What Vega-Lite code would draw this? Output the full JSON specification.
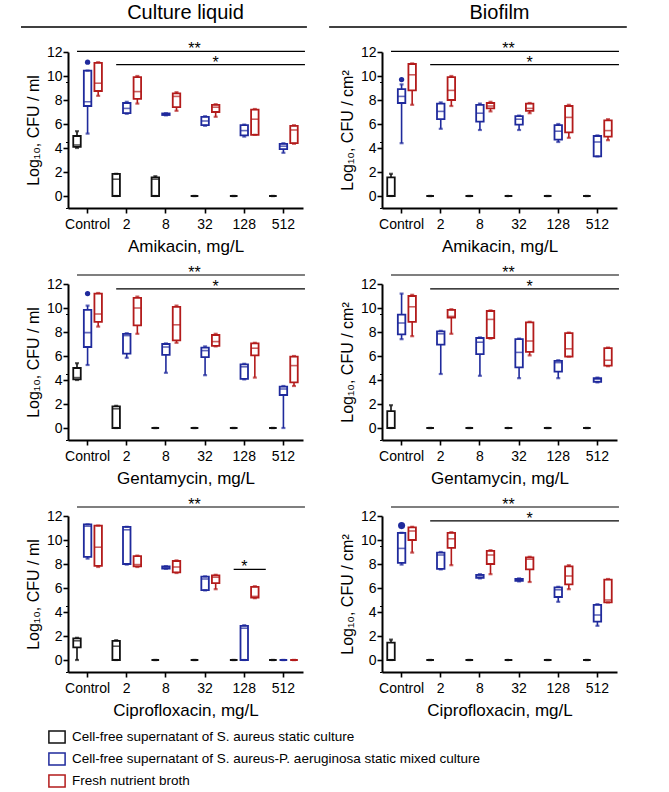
{
  "$schema": "https://vega.github.io/schema/vega-lite/v6.json",
  "padding": {"left": 20, "top": 3, "right": 5, "bottom": 2},
  "datasets": {
    "groups": [
      {"g": "S", "name": "Cell-free supernatant of S. aureus static culture"},
      {"g": "SP", "name": "Cell-free supernatant of S. aureus-P. aeruginosa static mixed culture"},
      {"g": "F", "name": "Fresh nutrient broth"}
    ],
    "headers": [
      {"side": "C", "from": "Control", "to": "512", "h": 1},
      {"side": "B", "from": "Control", "to": "512", "h": 1}
    ],
    "boxes": [
      {"p":"CA","c":"Control","g":"S","lo":4.0,"q1":4.1,"md":4.25,"q3":5.0,"hi":5.4},
      {"p":"CA","c":"Control","g":"SP","lo":5.2,"q1":7.5,"md":7.85,"q3":10.45,"hi":10.45},
      {"p":"CA","c":"Control","g":"F","lo":8.35,"q1":8.75,"md":9.4,"q3":11.1,"hi":11.15},
      {"p":"CA","c":"2","g":"S","lo":0,"q1":0,"md":1.4,"q3":1.85,"hi":1.85},
      {"p":"CA","c":"2","g":"SP","lo":6.85,"q1":6.9,"md":7.3,"q3":7.75,"hi":7.85},
      {"p":"CA","c":"2","g":"F","lo":7.7,"q1":8.1,"md":8.7,"q3":9.9,"hi":10.0},
      {"p":"CA","c":"8","g":"S","lo":0,"q1":0,"md":1.4,"q3":1.55,"hi":1.65},
      {"p":"CA","c":"8","g":"SP","lo":6.72,"q1":6.75,"md":6.8,"q3":6.88,"hi":6.9},
      {"p":"CA","c":"8","g":"F","lo":7.1,"q1":7.4,"md":8.3,"q3":8.55,"hi":8.65},
      {"p":"CA","c":"32","g":"S","lo":0,"q1":0,"md":0,"q3":0,"hi":0},
      {"p":"CA","c":"32","g":"SP","lo":5.85,"q1":5.9,"md":6.25,"q3":6.6,"hi":6.65},
      {"p":"CA","c":"32","g":"F","lo":6.6,"q1":7.0,"md":7.4,"q3":7.6,"hi":7.65},
      {"p":"CA","c":"128","g":"S","lo":0,"q1":0,"md":0,"q3":0,"hi":0},
      {"p":"CA","c":"128","g":"SP","lo":4.95,"q1":5.05,"md":5.45,"q3":5.9,"hi":5.95},
      {"p":"CA","c":"128","g":"F","lo":5.1,"q1":5.1,"md":6.4,"q3":7.2,"hi":7.25},
      {"p":"CA","c":"512","g":"S","lo":0,"q1":0,"md":0,"q3":0,"hi":0},
      {"p":"CA","c":"512","g":"SP","lo":3.6,"q1":3.9,"md":4.15,"q3":4.35,"hi":4.4},
      {"p":"CA","c":"512","g":"F","lo":4.35,"q1":4.4,"md":5.5,"q3":5.85,"hi":5.9},

      {"p":"BA","c":"Control","g":"S","lo":0,"q1":0,"md":0,"q3":1.55,"hi":1.85},
      {"p":"BA","c":"Control","g":"SP","lo":4.4,"q1":7.75,"md":8.3,"q3":8.9,"hi":9.3},
      {"p":"BA","c":"Control","g":"F","lo":7.6,"q1":8.8,"md":10.1,"q3":11.0,"hi":11.05},
      {"p":"BA","c":"2","g":"S","lo":0,"q1":0,"md":0,"q3":0,"hi":0},
      {"p":"BA","c":"2","g":"SP","lo":5.6,"q1":6.4,"md":7.05,"q3":7.7,"hi":7.8},
      {"p":"BA","c":"2","g":"F","lo":7.5,"q1":8.0,"md":8.8,"q3":9.9,"hi":10.0},
      {"p":"BA","c":"8","g":"S","lo":0,"q1":0,"md":0,"q3":0,"hi":0},
      {"p":"BA","c":"8","g":"SP","lo":5.5,"q1":6.2,"md":6.9,"q3":7.6,"hi":7.7},
      {"p":"BA","c":"8","g":"F","lo":7.05,"q1":7.3,"md":7.5,"q3":7.75,"hi":7.85},
      {"p":"BA","c":"32","g":"S","lo":0,"q1":0,"md":0,"q3":0,"hi":0},
      {"p":"BA","c":"32","g":"SP","lo":5.5,"q1":5.95,"md":6.4,"q3":6.65,"hi":6.7},
      {"p":"BA","c":"32","g":"F","lo":6.9,"q1":7.1,"md":7.3,"q3":7.7,"hi":7.75},
      {"p":"BA","c":"128","g":"S","lo":0,"q1":0,"md":0,"q3":0,"hi":0},
      {"p":"BA","c":"128","g":"SP","lo":4.5,"q1":4.7,"md":5.4,"q3":5.9,"hi":6.0},
      {"p":"BA","c":"128","g":"F","lo":4.85,"q1":5.3,"md":6.55,"q3":7.5,"hi":7.6},
      {"p":"BA","c":"512","g":"S","lo":0,"q1":0,"md":0,"q3":0,"hi":0},
      {"p":"BA","c":"512","g":"SP","lo":3.3,"q1":3.3,"md":4.5,"q3":5.0,"hi":5.05},
      {"p":"BA","c":"512","g":"F","lo":4.65,"q1":4.95,"md":5.45,"q3":6.3,"hi":6.4},

      {"p":"CG","c":"Control","g":"S","lo":4.0,"q1":4.05,"md":4.2,"q3":5.0,"hi":5.4},
      {"p":"CG","c":"Control","g":"SP","lo":5.25,"q1":6.75,"md":7.95,"q3":9.85,"hi":10.2},
      {"p":"CG","c":"Control","g":"F","lo":8.45,"q1":8.85,"md":9.5,"q3":11.2,"hi":11.25},
      {"p":"CG","c":"2","g":"S","lo":0,"q1":0,"md":1.6,"q3":1.8,"hi":1.85},
      {"p":"CG","c":"2","g":"SP","lo":5.85,"q1":6.2,"md":7.7,"q3":7.85,"hi":7.9},
      {"p":"CG","c":"2","g":"F","lo":7.85,"q1":8.55,"md":10.0,"q3":10.85,"hi":10.95},
      {"p":"CG","c":"8","g":"S","lo":0,"q1":0,"md":0,"q3":0,"hi":0},
      {"p":"CG","c":"8","g":"SP","lo":4.6,"q1":6.1,"md":6.75,"q3":7.0,"hi":7.05},
      {"p":"CG","c":"8","g":"F","lo":7.1,"q1":7.3,"md":8.6,"q3":10.1,"hi":10.2},
      {"p":"CG","c":"32","g":"S","lo":0,"q1":0,"md":0,"q3":0,"hi":0},
      {"p":"CG","c":"32","g":"SP","lo":4.4,"q1":5.9,"md":6.45,"q3":6.7,"hi":6.8},
      {"p":"CG","c":"32","g":"F","lo":6.8,"q1":6.85,"md":7.2,"q3":7.75,"hi":7.85},
      {"p":"CG","c":"128","g":"S","lo":0,"q1":0,"md":0,"q3":0,"hi":0},
      {"p":"CG","c":"128","g":"SP","lo":4.05,"q1":4.1,"md":5.1,"q3":5.3,"hi":5.35},
      {"p":"CG","c":"128","g":"F","lo":4.2,"q1":6.05,"md":6.65,"q3":7.05,"hi":7.1},
      {"p":"CG","c":"512","g":"S","lo":0,"q1":0,"md":0,"q3":0,"hi":0},
      {"p":"CG","c":"512","g":"SP","lo":0,"q1":2.75,"md":3.25,"q3":3.45,"hi":3.5},
      {"p":"CG","c":"512","g":"F","lo":3.5,"q1":3.8,"md":5.2,"q3":5.95,"hi":6.0},

      {"p":"BG","c":"Control","g":"S","lo":0,"q1":0,"md":0,"q3":1.4,"hi":1.9},
      {"p":"BG","c":"Control","g":"SP","lo":7.4,"q1":7.8,"md":8.75,"q3":9.45,"hi":11.2},
      {"p":"BG","c":"Control","g":"F","lo":7.65,"q1":8.85,"md":10.1,"q3":11.0,"hi":11.1},
      {"p":"BG","c":"2","g":"S","lo":0,"q1":0,"md":0,"q3":0,"hi":0},
      {"p":"BG","c":"2","g":"SP","lo":4.5,"q1":6.95,"md":7.85,"q3":8.05,"hi":8.1},
      {"p":"BG","c":"2","g":"F","lo":7.85,"q1":9.2,"md":9.3,"q3":9.85,"hi":9.9},
      {"p":"BG","c":"8","g":"S","lo":0,"q1":0,"md":0,"q3":0,"hi":0},
      {"p":"BG","c":"8","g":"SP","lo":4.35,"q1":6.15,"md":7.15,"q3":7.5,"hi":7.55},
      {"p":"BG","c":"8","g":"F","lo":7.45,"q1":7.5,"md":9.05,"q3":9.75,"hi":9.8},
      {"p":"BG","c":"32","g":"S","lo":0,"q1":0,"md":0,"q3":0,"hi":0},
      {"p":"BG","c":"32","g":"SP","lo":4.15,"q1":5.05,"md":6.3,"q3":7.4,"hi":7.45},
      {"p":"BG","c":"32","g":"F","lo":6.05,"q1":6.35,"md":7.25,"q3":8.8,"hi":8.85},
      {"p":"BG","c":"128","g":"S","lo":0,"q1":0,"md":0,"q3":0,"hi":0},
      {"p":"BG","c":"128","g":"SP","lo":4.15,"q1":4.7,"md":5.45,"q3":5.6,"hi":5.65},
      {"p":"BG","c":"128","g":"F","lo":5.95,"q1":5.95,"md":6.6,"q3":7.9,"hi":7.95},
      {"p":"BG","c":"512","g":"S","lo":0,"q1":0,"md":0,"q3":0,"hi":0},
      {"p":"BG","c":"512","g":"SP","lo":3.8,"q1":3.85,"md":4.05,"q3":4.15,"hi":4.2},
      {"p":"BG","c":"512","g":"F","lo":5.15,"q1":5.2,"md":5.65,"q3":6.65,"hi":6.7},

      {"p":"CC","c":"Control","g":"S","lo":0,"q1":1.05,"md":1.6,"q3":1.8,"hi":1.85},
      {"p":"CC","c":"Control","g":"SP","lo":8.45,"q1":8.6,"md":11.15,"q3":11.3,"hi":11.3},
      {"p":"CC","c":"Control","g":"F","lo":7.75,"q1":7.85,"md":9.4,"q3":11.2,"hi":11.2},
      {"p":"CC","c":"2","g":"S","lo":0,"q1":0,"md":1.15,"q3":1.6,"hi":1.65},
      {"p":"CC","c":"2","g":"SP","lo":7.95,"q1":8.0,"md":10.85,"q3":11.1,"hi":11.1},
      {"p":"CC","c":"2","g":"F","lo":7.75,"q1":7.8,"md":7.95,"q3":8.65,"hi":8.7},
      {"p":"CC","c":"8","g":"S","lo":0,"q1":0,"md":0,"q3":0,"hi":0},
      {"p":"CC","c":"8","g":"SP","lo":7.6,"q1":7.62,"md":7.7,"q3":7.8,"hi":7.82},
      {"p":"CC","c":"8","g":"F","lo":7.25,"q1":7.3,"md":7.75,"q3":8.25,"hi":8.3},
      {"p":"CC","c":"32","g":"S","lo":0,"q1":0,"md":0,"q3":0,"hi":0},
      {"p":"CC","c":"32","g":"SP","lo":5.8,"q1":5.82,"md":6.75,"q3":6.95,"hi":6.97},
      {"p":"CC","c":"32","g":"F","lo":5.9,"q1":6.4,"md":6.9,"q3":7.05,"hi":7.1},
      {"p":"CC","c":"128","g":"S","lo":0,"q1":0,"md":0,"q3":0,"hi":0},
      {"p":"CC","c":"128","g":"SP","lo":0,"q1":0,"md":2.65,"q3":2.85,"hi":2.9},
      {"p":"CC","c":"128","g":"F","lo":5.15,"q1":5.2,"md":5.3,"q3":6.1,"hi":6.15},
      {"p":"CC","c":"512","g":"S","lo":0,"q1":0,"md":0,"q3":0,"hi":0},
      {"p":"CC","c":"512","g":"SP","lo":0,"q1":0,"md":0,"q3":0,"hi":0},
      {"p":"CC","c":"512","g":"F","lo":0,"q1":0,"md":0,"q3":0,"hi":0},

      {"p":"BC","c":"Control","g":"S","lo":0,"q1":0,"md":0,"q3":1.45,"hi":1.7},
      {"p":"BC","c":"Control","g":"SP","lo":7.95,"q1":8.1,"md":9.3,"q3":10.6,"hi":10.6},
      {"p":"BC","c":"Control","g":"F","lo":8.95,"q1":10.0,"md":10.75,"q3":11.05,"hi":11.1},
      {"p":"BC","c":"2","g":"S","lo":0,"q1":0,"md":0,"q3":0,"hi":0},
      {"p":"BC","c":"2","g":"SP","lo":7.55,"q1":7.6,"md":8.75,"q3":8.95,"hi":9.0},
      {"p":"BC","c":"2","g":"F","lo":7.9,"q1":9.35,"md":10.1,"q3":10.6,"hi":10.65},
      {"p":"BC","c":"8","g":"S","lo":0,"q1":0,"md":0,"q3":0,"hi":0},
      {"p":"BC","c":"8","g":"SP","lo":6.8,"q1":6.85,"md":7.0,"q3":7.1,"hi":7.15},
      {"p":"BC","c":"8","g":"F","lo":7.15,"q1":8.0,"md":8.75,"q3":9.1,"hi":9.15},
      {"p":"BC","c":"32","g":"S","lo":0,"q1":0,"md":0,"q3":0,"hi":0},
      {"p":"BC","c":"32","g":"SP","lo":6.55,"q1":6.6,"md":6.65,"q3":6.75,"hi":6.8},
      {"p":"BC","c":"32","g":"F","lo":6.5,"q1":7.55,"md":8.4,"q3":8.55,"hi":8.6},
      {"p":"BC","c":"128","g":"S","lo":0,"q1":0,"md":0,"q3":0,"hi":0},
      {"p":"BC","c":"128","g":"SP","lo":4.85,"q1":5.25,"md":5.85,"q3":6.05,"hi":6.1},
      {"p":"BC","c":"128","g":"F","lo":5.9,"q1":6.3,"md":7.0,"q3":7.8,"hi":7.9},
      {"p":"BC","c":"512","g":"S","lo":0,"q1":0,"md":0,"q3":0,"hi":0},
      {"p":"BC","c":"512","g":"SP","lo":2.85,"q1":3.2,"md":3.75,"q3":4.6,"hi":4.65},
      {"p":"BC","c":"512","g":"F","lo":4.8,"q1":4.8,"md":5.0,"q3":6.7,"hi":6.75}
    ],
    "outliers": [
      {"p":"CA","c":"Control","g":"SP","v":11.15},
      {"p":"BA","c":"Control","g":"SP","v":9.7},
      {"p":"CG","c":"Control","g":"SP","v":11.2},
      {"p":"BC","c":"Control","g":"SP","v":11.2}
    ],
    "sig": [
      {"p":"CA","from":"Control","to":"512","y":12.05,"lab":"**","tx":"32","tg":"S"},
      {"p":"CA","from":"2","to":"512","y":10.95,"lab":"*","tx":"32","tg":"F"},
      {"p":"BA","from":"Control","to":"512","y":12.05,"lab":"**","tx":"32","tg":"S"},
      {"p":"BA","from":"2","to":"512","y":10.95,"lab":"*","tx":"32","tg":"F"},
      {"p":"CG","from":"Control","to":"512","y":12.75,"lab":"**","tx":"32","tg":"S"},
      {"p":"CG","from":"2","to":"512","y":11.6,"lab":"*","tx":"32","tg":"F"},
      {"p":"BG","from":"Control","to":"512","y":12.75,"lab":"**","tx":"32","tg":"S"},
      {"p":"BG","from":"2","to":"512","y":11.6,"lab":"*","tx":"32","tg":"F"},
      {"p":"CC","from":"Control","to":"512","y":12.75,"lab":"**","tx":"32","tg":"S"},
      {"p":"CC","from":"128","to":"128","y":7.55,"lab":"*","tx":"128","tg":"SP"},
      {"p":"BC","from":"Control","to":"512","y":12.75,"lab":"**","tx":"32","tg":"S"},
      {"p":"BC","from":"2","to":"512","y":11.6,"lab":"*","tx":"32","tg":"F"}
    ]
  },
  "columns": 1,
  "align": "none",
  "spacing": 10,
  "concat": [
    {
      "spacing": 20,
      "hconcat": [
        {
          "width": 235, "height": 4,
          "data": {"name": "headers"},
          "transform": [{"filter": "datum.side == 'C'"}],
          "title": {"text": "Culture liquid", "offset": 3},
          "mark": {"type": "rule", "strokeWidth": 1.5, "color": "black"},
          "encoding": {
            "x": {"field": "from", "type": "nominal", "bandPosition": -1.2, "scale": {"domain": ["Control","2","8","32","128","512"], "paddingInner": 0, "paddingOuter": 0}, "axis": null},
            "x2": {"field": "to", "bandPosition": 1.1},
            "y": {"field": "h", "type": "quantitative", "scale": {"domain": [0, 1]}, "axis": null}
          }
        },
        {
          "width": 235, "height": 4,
          "data": {"name": "headers"},
          "transform": [{"filter": "datum.side == 'B'"}],
          "title": {"text": "Biofilm", "offset": 3},
          "mark": {"type": "rule", "strokeWidth": 1.5, "color": "black"},
          "encoding": {
            "x": {"field": "from", "type": "nominal", "bandPosition": -1.35, "scale": {"domain": ["Control","2","8","32","128","512"], "paddingInner": 0, "paddingOuter": 0}, "axis": null},
            "x2": {"field": "to", "bandPosition": 1.25},
            "y": {"field": "h", "type": "quantitative", "scale": {"domain": [0, 1]}, "axis": null}
          }
        }
      ]
    },
    {
      "spacing": 33,
      "hconcat": [
        {
          "width": 235, "height": 156,
          "resolve": {"axis": {"y": "independent"}},
          "layer": [
            {"layer": [
              {"data": {"name": "boxes"}, "transform": [{"filter": "datum.p == 'CA'"}],
               "mark": {"type": "rule", "strokeWidth": 1.6},
               "encoding": {
                 "x": {"field": "c", "type": "nominal", "scale": {"domain": ["Control","2","8","32","128","512"], "paddingInner": 0, "paddingOuter": 0}, "axis": {"title": "Amikacin, mg/L"}},
                 "xOffset": {"field": "g", "type": "nominal", "scale": {"domain": ["S","SP","F"], "paddingInner": 0, "paddingOuter": 0.35}},
                 "y": {"field": "lo", "type": "quantitative", "scale": {"domain": [-1, 12], "nice": false, "zero": false}, "axis": {"orient": "left", "title": null, "labels": false, "domain": false, "tickSize": 2.5, "tickWidth": 1, "values": [-1,-0.5,0.5,1,1.5,2.5,3,3.5,4.5,5,5.5,6.5,7,7.5,8.5,9,9.5,10.5,11,11.5]}},
                 "y2": {"field": "hi"},
                 "color": {"field": "g", "type": "nominal", "scale": {"domain": ["S","SP","F"], "range": ["#111111","#1f2a9c","#b31b1b"]}, "legend": null}
               }},
              {"data": {"name": "boxes"}, "transform": [{"filter": "datum.p == 'CA'"}, {"lookup": "g", "from": {"data": {"name": "groups"}, "key": "g", "fields": ["name"]}}],
               "mark": {"type": "bar", "fill": "white", "strokeWidth": 1.8, "size": 7.5},
               "encoding": {
                 "x": {"field": "c", "type": "nominal"},
                 "xOffset": {"field": "g", "type": "nominal"},
                 "y": {"field": "q1", "type": "quantitative"},
                 "y2": {"field": "q3"},
                 "stroke": {"field": "name", "type": "nominal", "scale": {"domain": ["Cell-free supernatant of S. aureus static culture","Cell-free supernatant of S. aureus-P. aeruginosa static mixed culture","Fresh nutrient broth"], "range": ["#111111","#1f2a9c","#b31b1b"]}}
               }},
              {"data": {"name": "boxes"}, "transform": [{"filter": "datum.p == 'CA'"}],
               "mark": {"type": "tick", "thickness": 1.6, "size": 7.5},
               "encoding": {
                 "x": {"field": "c", "type": "nominal"},
                 "xOffset": {"field": "g", "type": "nominal"},
                 "y": {"field": "md", "type": "quantitative"},
                 "color": {"field": "g", "type": "nominal", "legend": null}
               }},
              {"data": {"name": "boxes"}, "transform": [{"filter": "datum.p == 'CA'"}, {"fold": ["lo", "hi"], "as": ["k", "v"]}],
               "mark": {"type": "tick", "thickness": 2.2, "size": 4},
               "encoding": {
                 "x": {"field": "c", "type": "nominal"},
                 "xOffset": {"field": "g", "type": "nominal"},
                 "y": {"field": "v", "type": "quantitative"},
                 "color": {"field": "g", "type": "nominal", "legend": null}
               }},
              {"data": {"name": "outliers"}, "transform": [{"filter": "datum.p == 'CA'"}],
               "mark": {"type": "point", "filled": true, "size": 28, "opacity": 1},
               "encoding": {
                 "x": {"field": "c", "type": "nominal"},
                 "xOffset": {"field": "g", "type": "nominal"},
                 "y": {"field": "v", "type": "quantitative"},
                 "color": {"field": "g", "type": "nominal", "legend": null}
               }},
              {"data": {"name": "sig"}, "transform": [{"filter": "datum.p == 'CA'"}],
               "mark": {"type": "rule", "strokeWidth": 1.2, "color": "black"},
               "encoding": {
                 "x": {"field": "from", "type": "nominal", "bandPosition": 0.23},
                 "x2": {"field": "to", "bandPosition": 1.05},
                 "y": {"field": "y", "type": "quantitative"}
               }}
            ]},
            {"data": {"name": "sig"}, "transform": [{"filter": "datum.p == 'CA'"}],
             "mark": {"type": "text", "fontSize": 16, "baseline": "alphabetic", "dy": 3, "color": "black"},
             "encoding": {
               "x": {"field": "tx", "type": "nominal"},
               "xOffset": {"field": "tg", "type": "nominal"},
               "y": {"field": "y", "type": "quantitative", "axis": {"orient": "left", "title": "Log₁₀, CFU / ml", "values": [0,2,4,6,8,10,12], "labelOverlap": false}},
               "text": {"field": "lab"}
             }}
          ]
        },
        {
          "width": 235, "height": 156,
          "resolve": {"axis": {"y": "independent"}},
          "layer": [
            {"layer": [
              {"data": {"name": "boxes"}, "transform": [{"filter": "datum.p == 'BA'"}],
               "mark": {"type": "rule", "strokeWidth": 1.6},
               "encoding": {
                 "x": {"field": "c", "type": "nominal", "scale": {"domain": ["Control","2","8","32","128","512"], "paddingInner": 0, "paddingOuter": 0}, "axis": {"title": "Amikacin, mg/L"}},
                 "xOffset": {"field": "g", "type": "nominal", "scale": {"domain": ["S","SP","F"], "paddingInner": 0, "paddingOuter": 0.35}},
                 "y": {"field": "lo", "type": "quantitative", "scale": {"domain": [-1, 12], "nice": false, "zero": false}, "axis": {"orient": "left", "title": null, "labels": false, "domain": false, "tickSize": 2.5, "tickWidth": 1, "values": [-1,-0.5,0.5,1,1.5,2.5,3,3.5,4.5,5,5.5,6.5,7,7.5,8.5,9,9.5,10.5,11,11.5]}},
                 "y2": {"field": "hi"},
                 "color": {"field": "g", "type": "nominal", "scale": {"domain": ["S","SP","F"], "range": ["#111111","#1f2a9c","#b31b1b"]}, "legend": null}
               }},
              {"data": {"name": "boxes"}, "transform": [{"filter": "datum.p == 'BA'"}, {"lookup": "g", "from": {"data": {"name": "groups"}, "key": "g", "fields": ["name"]}}],
               "mark": {"type": "bar", "fill": "white", "strokeWidth": 1.8, "size": 7.5},
               "encoding": {
                 "x": {"field": "c", "type": "nominal"},
                 "xOffset": {"field": "g", "type": "nominal"},
                 "y": {"field": "q1", "type": "quantitative"},
                 "y2": {"field": "q3"},
                 "stroke": {"field": "name", "type": "nominal", "scale": {"domain": ["Cell-free supernatant of S. aureus static culture","Cell-free supernatant of S. aureus-P. aeruginosa static mixed culture","Fresh nutrient broth"], "range": ["#111111","#1f2a9c","#b31b1b"]}}
               }},
              {"data": {"name": "boxes"}, "transform": [{"filter": "datum.p == 'BA'"}],
               "mark": {"type": "tick", "thickness": 1.6, "size": 7.5},
               "encoding": {
                 "x": {"field": "c", "type": "nominal"},
                 "xOffset": {"field": "g", "type": "nominal"},
                 "y": {"field": "md", "type": "quantitative"},
                 "color": {"field": "g", "type": "nominal", "legend": null}
               }},
              {"data": {"name": "boxes"}, "transform": [{"filter": "datum.p == 'BA'"}, {"fold": ["lo", "hi"], "as": ["k", "v"]}],
               "mark": {"type": "tick", "thickness": 2.2, "size": 4},
               "encoding": {
                 "x": {"field": "c", "type": "nominal"},
                 "xOffset": {"field": "g", "type": "nominal"},
                 "y": {"field": "v", "type": "quantitative"},
                 "color": {"field": "g", "type": "nominal", "legend": null}
               }},
              {"data": {"name": "outliers"}, "transform": [{"filter": "datum.p == 'BA'"}],
               "mark": {"type": "point", "filled": true, "size": 28, "opacity": 1},
               "encoding": {
                 "x": {"field": "c", "type": "nominal"},
                 "xOffset": {"field": "g", "type": "nominal"},
                 "y": {"field": "v", "type": "quantitative"},
                 "color": {"field": "g", "type": "nominal", "legend": null}
               }},
              {"data": {"name": "sig"}, "transform": [{"filter": "datum.p == 'BA'"}],
               "mark": {"type": "rule", "strokeWidth": 1.2, "color": "black"},
               "encoding": {
                 "x": {"field": "from", "type": "nominal", "bandPosition": 0.23},
                 "x2": {"field": "to", "bandPosition": 1.05},
                 "y": {"field": "y", "type": "quantitative"}
               }}
            ]},
            {"data": {"name": "sig"}, "transform": [{"filter": "datum.p == 'BA'"}],
             "mark": {"type": "text", "fontSize": 16, "baseline": "alphabetic", "dy": 3, "color": "black"},
             "encoding": {
               "x": {"field": "tx", "type": "nominal"},
               "xOffset": {"field": "tg", "type": "nominal"},
               "y": {"field": "y", "type": "quantitative", "axis": {"orient": "left", "title": "Log₁₀, CFU / cm²", "values": [0,2,4,6,8,10,12], "labelOverlap": false}},
               "text": {"field": "lab"}
             }}
          ]
        }
      ]
    },
    {
      "spacing": 33,
      "hconcat": [
        {
          "width": 235, "height": 156,
          "resolve": {"axis": {"y": "independent"}},
          "layer": [
            {"layer": [
              {"data": {"name": "boxes"}, "transform": [{"filter": "datum.p == 'CG'"}],
               "mark": {"type": "rule", "strokeWidth": 1.6},
               "encoding": {
                 "x": {"field": "c", "type": "nominal", "scale": {"domain": ["Control","2","8","32","128","512"], "paddingInner": 0, "paddingOuter": 0}, "axis": {"title": "Gentamycin, mg/L"}},
                 "xOffset": {"field": "g", "type": "nominal", "scale": {"domain": ["S","SP","F"], "paddingInner": 0, "paddingOuter": 0.35}},
                 "y": {"field": "lo", "type": "quantitative", "scale": {"domain": [-1, 12], "nice": false, "zero": false}, "axis": {"orient": "left", "title": null, "labels": false, "domain": false, "tickSize": 2.5, "tickWidth": 1, "values": [-1,-0.5,0.5,1,1.5,2.5,3,3.5,4.5,5,5.5,6.5,7,7.5,8.5,9,9.5,10.5,11,11.5]}},
                 "y2": {"field": "hi"},
                 "color": {"field": "g", "type": "nominal", "scale": {"domain": ["S","SP","F"], "range": ["#111111","#1f2a9c","#b31b1b"]}, "legend": null}
               }},
              {"data": {"name": "boxes"}, "transform": [{"filter": "datum.p == 'CG'"}, {"lookup": "g", "from": {"data": {"name": "groups"}, "key": "g", "fields": ["name"]}}],
               "mark": {"type": "bar", "fill": "white", "strokeWidth": 1.8, "size": 7.5},
               "encoding": {
                 "x": {"field": "c", "type": "nominal"},
                 "xOffset": {"field": "g", "type": "nominal"},
                 "y": {"field": "q1", "type": "quantitative"},
                 "y2": {"field": "q3"},
                 "stroke": {"field": "name", "type": "nominal", "scale": {"domain": ["Cell-free supernatant of S. aureus static culture","Cell-free supernatant of S. aureus-P. aeruginosa static mixed culture","Fresh nutrient broth"], "range": ["#111111","#1f2a9c","#b31b1b"]}}
               }},
              {"data": {"name": "boxes"}, "transform": [{"filter": "datum.p == 'CG'"}],
               "mark": {"type": "tick", "thickness": 1.6, "size": 7.5},
               "encoding": {
                 "x": {"field": "c", "type": "nominal"},
                 "xOffset": {"field": "g", "type": "nominal"},
                 "y": {"field": "md", "type": "quantitative"},
                 "color": {"field": "g", "type": "nominal", "legend": null}
               }},
              {"data": {"name": "boxes"}, "transform": [{"filter": "datum.p == 'CG'"}, {"fold": ["lo", "hi"], "as": ["k", "v"]}],
               "mark": {"type": "tick", "thickness": 2.2, "size": 4},
               "encoding": {
                 "x": {"field": "c", "type": "nominal"},
                 "xOffset": {"field": "g", "type": "nominal"},
                 "y": {"field": "v", "type": "quantitative"},
                 "color": {"field": "g", "type": "nominal", "legend": null}
               }},
              {"data": {"name": "outliers"}, "transform": [{"filter": "datum.p == 'CG'"}],
               "mark": {"type": "point", "filled": true, "size": 28, "opacity": 1},
               "encoding": {
                 "x": {"field": "c", "type": "nominal"},
                 "xOffset": {"field": "g", "type": "nominal"},
                 "y": {"field": "v", "type": "quantitative"},
                 "color": {"field": "g", "type": "nominal", "legend": null}
               }},
              {"data": {"name": "sig"}, "transform": [{"filter": "datum.p == 'CG'"}],
               "mark": {"type": "rule", "strokeWidth": 1.2, "color": "black"},
               "encoding": {
                 "x": {"field": "from", "type": "nominal", "bandPosition": 0.23},
                 "x2": {"field": "to", "bandPosition": 1.05},
                 "y": {"field": "y", "type": "quantitative"}
               }}
            ]},
            {"data": {"name": "sig"}, "transform": [{"filter": "datum.p == 'CG'"}],
             "mark": {"type": "text", "fontSize": 16, "baseline": "alphabetic", "dy": 3, "color": "black"},
             "encoding": {
               "x": {"field": "tx", "type": "nominal"},
               "xOffset": {"field": "tg", "type": "nominal"},
               "y": {"field": "y", "type": "quantitative", "axis": {"orient": "left", "title": "Log₁₀, CFU / ml", "values": [0,2,4,6,8,10,12], "labelOverlap": false}},
               "text": {"field": "lab"}
             }}
          ]
        },
        {
          "width": 235, "height": 156,
          "resolve": {"axis": {"y": "independent"}},
          "layer": [
            {"layer": [
              {"data": {"name": "boxes"}, "transform": [{"filter": "datum.p == 'BG'"}],
               "mark": {"type": "rule", "strokeWidth": 1.6},
               "encoding": {
                 "x": {"field": "c", "type": "nominal", "scale": {"domain": ["Control","2","8","32","128","512"], "paddingInner": 0, "paddingOuter": 0}, "axis": {"title": "Gentamycin, mg/L"}},
                 "xOffset": {"field": "g", "type": "nominal", "scale": {"domain": ["S","SP","F"], "paddingInner": 0, "paddingOuter": 0.35}},
                 "y": {"field": "lo", "type": "quantitative", "scale": {"domain": [-1, 12], "nice": false, "zero": false}, "axis": {"orient": "left", "title": null, "labels": false, "domain": false, "tickSize": 2.5, "tickWidth": 1, "values": [-1,-0.5,0.5,1,1.5,2.5,3,3.5,4.5,5,5.5,6.5,7,7.5,8.5,9,9.5,10.5,11,11.5]}},
                 "y2": {"field": "hi"},
                 "color": {"field": "g", "type": "nominal", "scale": {"domain": ["S","SP","F"], "range": ["#111111","#1f2a9c","#b31b1b"]}, "legend": null}
               }},
              {"data": {"name": "boxes"}, "transform": [{"filter": "datum.p == 'BG'"}, {"lookup": "g", "from": {"data": {"name": "groups"}, "key": "g", "fields": ["name"]}}],
               "mark": {"type": "bar", "fill": "white", "strokeWidth": 1.8, "size": 7.5},
               "encoding": {
                 "x": {"field": "c", "type": "nominal"},
                 "xOffset": {"field": "g", "type": "nominal"},
                 "y": {"field": "q1", "type": "quantitative"},
                 "y2": {"field": "q3"},
                 "stroke": {"field": "name", "type": "nominal", "scale": {"domain": ["Cell-free supernatant of S. aureus static culture","Cell-free supernatant of S. aureus-P. aeruginosa static mixed culture","Fresh nutrient broth"], "range": ["#111111","#1f2a9c","#b31b1b"]}}
               }},
              {"data": {"name": "boxes"}, "transform": [{"filter": "datum.p == 'BG'"}],
               "mark": {"type": "tick", "thickness": 1.6, "size": 7.5},
               "encoding": {
                 "x": {"field": "c", "type": "nominal"},
                 "xOffset": {"field": "g", "type": "nominal"},
                 "y": {"field": "md", "type": "quantitative"},
                 "color": {"field": "g", "type": "nominal", "legend": null}
               }},
              {"data": {"name": "boxes"}, "transform": [{"filter": "datum.p == 'BG'"}, {"fold": ["lo", "hi"], "as": ["k", "v"]}],
               "mark": {"type": "tick", "thickness": 2.2, "size": 4},
               "encoding": {
                 "x": {"field": "c", "type": "nominal"},
                 "xOffset": {"field": "g", "type": "nominal"},
                 "y": {"field": "v", "type": "quantitative"},
                 "color": {"field": "g", "type": "nominal", "legend": null}
               }},
              {"data": {"name": "sig"}, "transform": [{"filter": "datum.p == 'BG'"}],
               "mark": {"type": "rule", "strokeWidth": 1.2, "color": "black"},
               "encoding": {
                 "x": {"field": "from", "type": "nominal", "bandPosition": 0.23},
                 "x2": {"field": "to", "bandPosition": 1.05},
                 "y": {"field": "y", "type": "quantitative"}
               }}
            ]},
            {"data": {"name": "sig"}, "transform": [{"filter": "datum.p == 'BG'"}],
             "mark": {"type": "text", "fontSize": 16, "baseline": "alphabetic", "dy": 3, "color": "black"},
             "encoding": {
               "x": {"field": "tx", "type": "nominal"},
               "xOffset": {"field": "tg", "type": "nominal"},
               "y": {"field": "y", "type": "quantitative", "axis": {"orient": "left", "title": "Log₁₀, CFU / cm²", "values": [0,2,4,6,8,10,12], "labelOverlap": false}},
               "text": {"field": "lab"}
             }}
          ]
        }
      ]
    },
    {
      "spacing": 33,
      "hconcat": [
        {
          "width": 235, "height": 156,
          "resolve": {"axis": {"y": "independent"}},
          "layer": [
            {"layer": [
              {"data": {"name": "boxes"}, "transform": [{"filter": "datum.p == 'CC'"}],
               "mark": {"type": "rule", "strokeWidth": 1.6},
               "encoding": {
                 "x": {"field": "c", "type": "nominal", "scale": {"domain": ["Control","2","8","32","128","512"], "paddingInner": 0, "paddingOuter": 0}, "axis": {"title": "Ciprofloxacin, mg/L"}},
                 "xOffset": {"field": "g", "type": "nominal", "scale": {"domain": ["S","SP","F"], "paddingInner": 0, "paddingOuter": 0.35}},
                 "y": {"field": "lo", "type": "quantitative", "scale": {"domain": [-1, 12], "nice": false, "zero": false}, "axis": {"orient": "left", "title": null, "labels": false, "domain": false, "tickSize": 2.5, "tickWidth": 1, "values": [-1,-0.5,0.5,1,1.5,2.5,3,3.5,4.5,5,5.5,6.5,7,7.5,8.5,9,9.5,10.5,11,11.5]}},
                 "y2": {"field": "hi"},
                 "color": {"field": "g", "type": "nominal", "scale": {"domain": ["S","SP","F"], "range": ["#111111","#1f2a9c","#b31b1b"]}, "legend": null}
               }},
              {"data": {"name": "boxes"}, "transform": [{"filter": "datum.p == 'CC'"}, {"lookup": "g", "from": {"data": {"name": "groups"}, "key": "g", "fields": ["name"]}}],
               "mark": {"type": "bar", "fill": "white", "strokeWidth": 1.8, "size": 7.5},
               "encoding": {
                 "x": {"field": "c", "type": "nominal"},
                 "xOffset": {"field": "g", "type": "nominal"},
                 "y": {"field": "q1", "type": "quantitative"},
                 "y2": {"field": "q3"},
                 "stroke": {"field": "name", "type": "nominal", "scale": {"domain": ["Cell-free supernatant of S. aureus static culture","Cell-free supernatant of S. aureus-P. aeruginosa static mixed culture","Fresh nutrient broth"], "range": ["#111111","#1f2a9c","#b31b1b"]}}
               }},
              {"data": {"name": "boxes"}, "transform": [{"filter": "datum.p == 'CC'"}],
               "mark": {"type": "tick", "thickness": 1.6, "size": 7.5},
               "encoding": {
                 "x": {"field": "c", "type": "nominal"},
                 "xOffset": {"field": "g", "type": "nominal"},
                 "y": {"field": "md", "type": "quantitative"},
                 "color": {"field": "g", "type": "nominal", "legend": null}
               }},
              {"data": {"name": "boxes"}, "transform": [{"filter": "datum.p == 'CC'"}, {"fold": ["lo", "hi"], "as": ["k", "v"]}],
               "mark": {"type": "tick", "thickness": 2.2, "size": 4},
               "encoding": {
                 "x": {"field": "c", "type": "nominal"},
                 "xOffset": {"field": "g", "type": "nominal"},
                 "y": {"field": "v", "type": "quantitative"},
                 "color": {"field": "g", "type": "nominal", "legend": null}
               }},
              {"data": {"name": "sig"}, "transform": [{"filter": "datum.p == 'CC'"}],
               "mark": {"type": "rule", "strokeWidth": 1.2, "color": "black"},
               "encoding": {
                 "x": {"field": "from", "type": "nominal", "bandPosition": 0.23},
                 "x2": {"field": "to", "bandPosition": 1.05},
                 "y": {"field": "y", "type": "quantitative"}
               }}
            ]},
            {"data": {"name": "sig"}, "transform": [{"filter": "datum.p == 'CC'"}],
             "mark": {"type": "text", "fontSize": 16, "baseline": "alphabetic", "dy": 3, "color": "black"},
             "encoding": {
               "x": {"field": "tx", "type": "nominal"},
               "xOffset": {"field": "tg", "type": "nominal"},
               "y": {"field": "y", "type": "quantitative", "axis": {"orient": "left", "title": "Log₁₀, CFU / ml", "values": [0,2,4,6,8,10,12], "labelOverlap": false}},
               "text": {"field": "lab"}
             }}
          ]
        },
        {
          "width": 235, "height": 156,
          "resolve": {"axis": {"y": "independent"}},
          "layer": [
            {"layer": [
              {"data": {"name": "boxes"}, "transform": [{"filter": "datum.p == 'BC'"}],
               "mark": {"type": "rule", "strokeWidth": 1.6},
               "encoding": {
                 "x": {"field": "c", "type": "nominal", "scale": {"domain": ["Control","2","8","32","128","512"], "paddingInner": 0, "paddingOuter": 0}, "axis": {"title": "Ciprofloxacin, mg/L"}},
                 "xOffset": {"field": "g", "type": "nominal", "scale": {"domain": ["S","SP","F"], "paddingInner": 0, "paddingOuter": 0.35}},
                 "y": {"field": "lo", "type": "quantitative", "scale": {"domain": [-1, 12], "nice": false, "zero": false}, "axis": {"orient": "left", "title": null, "labels": false, "domain": false, "tickSize": 2.5, "tickWidth": 1, "values": [-1,-0.5,0.5,1,1.5,2.5,3,3.5,4.5,5,5.5,6.5,7,7.5,8.5,9,9.5,10.5,11,11.5]}},
                 "y2": {"field": "hi"},
                 "color": {"field": "g", "type": "nominal", "scale": {"domain": ["S","SP","F"], "range": ["#111111","#1f2a9c","#b31b1b"]}, "legend": null}
               }},
              {"data": {"name": "boxes"}, "transform": [{"filter": "datum.p == 'BC'"}, {"lookup": "g", "from": {"data": {"name": "groups"}, "key": "g", "fields": ["name"]}}],
               "mark": {"type": "bar", "fill": "white", "strokeWidth": 1.8, "size": 7.5},
               "encoding": {
                 "x": {"field": "c", "type": "nominal"},
                 "xOffset": {"field": "g", "type": "nominal"},
                 "y": {"field": "q1", "type": "quantitative"},
                 "y2": {"field": "q3"},
                 "stroke": {"field": "name", "type": "nominal", "scale": {"domain": ["Cell-free supernatant of S. aureus static culture","Cell-free supernatant of S. aureus-P. aeruginosa static mixed culture","Fresh nutrient broth"], "range": ["#111111","#1f2a9c","#b31b1b"]}}
               }},
              {"data": {"name": "boxes"}, "transform": [{"filter": "datum.p == 'BC'"}],
               "mark": {"type": "tick", "thickness": 1.6, "size": 7.5},
               "encoding": {
                 "x": {"field": "c", "type": "nominal"},
                 "xOffset": {"field": "g", "type": "nominal"},
                 "y": {"field": "md", "type": "quantitative"},
                 "color": {"field": "g", "type": "nominal", "legend": null}
               }},
              {"data": {"name": "boxes"}, "transform": [{"filter": "datum.p == 'BC'"}, {"fold": ["lo", "hi"], "as": ["k", "v"]}],
               "mark": {"type": "tick", "thickness": 2.2, "size": 4},
               "encoding": {
                 "x": {"field": "c", "type": "nominal"},
                 "xOffset": {"field": "g", "type": "nominal"},
                 "y": {"field": "v", "type": "quantitative"},
                 "color": {"field": "g", "type": "nominal", "legend": null}
               }},
              {"data": {"name": "outliers"}, "transform": [{"filter": "datum.p == 'BC'"}],
               "mark": {"type": "point", "filled": true, "size": 50, "opacity": 1},
               "encoding": {
                 "x": {"field": "c", "type": "nominal"},
                 "xOffset": {"field": "g", "type": "nominal"},
                 "y": {"field": "v", "type": "quantitative"},
                 "color": {"field": "g", "type": "nominal", "legend": null}
               }},
              {"data": {"name": "sig"}, "transform": [{"filter": "datum.p == 'BC'"}],
               "mark": {"type": "rule", "strokeWidth": 1.2, "color": "black"},
               "encoding": {
                 "x": {"field": "from", "type": "nominal", "bandPosition": 0.23},
                 "x2": {"field": "to", "bandPosition": 1.05},
                 "y": {"field": "y", "type": "quantitative"}
               }}
            ]},
            {"data": {"name": "sig"}, "transform": [{"filter": "datum.p == 'BC'"}],
             "mark": {"type": "text", "fontSize": 16, "baseline": "alphabetic", "dy": 3, "color": "black"},
             "encoding": {
               "x": {"field": "tx", "type": "nominal"},
               "xOffset": {"field": "tg", "type": "nominal"},
               "y": {"field": "y", "type": "quantitative", "axis": {"orient": "left", "title": "Log₁₀, CFU / cm²", "values": [0,2,4,6,8,10,12], "labelOverlap": false}},
               "text": {"field": "lab"}
             }}
          ]
        }
      ]
    }
  ],
  "config": {
    "font": "Liberation Sans",
    "view": {"stroke": null},
    "axis": {"grid": false, "domainColor": "black", "domainWidth": 2, "tickColor": "black", "tickWidth": 1.6, "labelColor": "black", "titleColor": "black", "labelFontSize": 14, "titleFontWeight": "normal"},
    "axisX": {"labelAngle": 0, "tickSize": 5, "labelPadding": 4, "titlePadding": 7, "titleFontSize": 17},
    "axisY": {"titleFontSize": 16, "tickSize": 5, "labelPadding": 1, "titlePadding": 5, "labelOverlap": false},
    "title": {"fontSize": 20, "fontWeight": "normal", "color": "black"},
    "legend": {
      "orient": "none", "legendX": -18, "legendY": 703, "direction": "vertical", "title": null,
      "labelFont": "Liberation Sans", "labelFontSize": 13.5, "labelColor": "black", "labelLimit": 600, "labelOffset": 8,
      "symbolType": "M-1.35,-1H1.35V1H-1.35Z", "symbolSize": 144, "symbolStrokeWidth": 1.5, "symbolFillColor": "white", "rowPadding": 4
    }
  }
}
